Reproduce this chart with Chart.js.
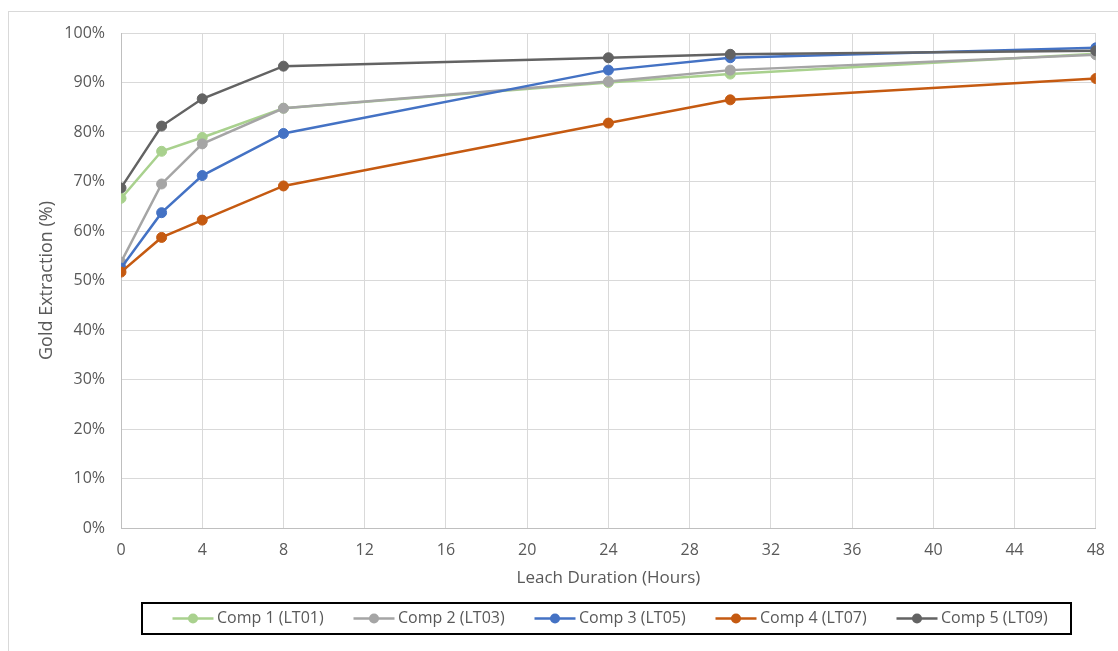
<!DOCTYPE html>
<html>
<head>
<meta charset="utf-8">
<script src="https://cdn.jsdelivr.net/npm/chart.js@4/dist/chart.umd.min.js"></script>
<style>
  html, body { margin: 0; padding: 0; background: #fff; }
  #wrap { width: 1118px; height: 651px; position: relative; }
</style>
</head>
<body>
<div id="wrap"><canvas id="chart" width="1118" height="651"></canvas></div>
<script>
/* Data */
const hours = [0, 2, 4, 8, 24, 30, 48];
const seriesNames = ['Comp 1 (LT01)', 'Comp 2 (LT03)', 'Comp 3 (LT05)', 'Comp 4 (LT07)', 'Comp 5 (LT09)'];
const comp1 = [66.6, 76.1, 78.9, 84.8, 90.0, 91.7, 95.8];
const comp2 = [53.7, 69.5, 77.6, 84.8, 90.2, 92.5, 95.6];
const comp3 = [52.5, 63.7, 71.2, 79.7, 92.5, 95.0, 97.0];
const comp4 = [51.7, 58.7, 62.2, 69.1, 81.8, 86.5, 90.8];
const comp5 = [68.7, 81.2, 86.7, 93.3, 95.0, 95.7, 96.4];
const seriesColors = ['#a9d18e', '#a5a5a5', '#4472c4', '#c55a11', '#636363'];

const FONT = '"Open Sans", "Noto Sans", sans-serif';
const TXT = '#595959';

const allSeries = [comp1, comp2, comp3, comp4, comp5];
const datasets = allSeries.map((vals, i) => ({
  label: seriesNames[i],
  data: vals.map((v, j) => ({ x: hours[j], y: v })),
  borderColor: seriesColors[i],
  backgroundColor: seriesColors[i],
  pointBackgroundColor: seriesColors[i],
  pointBorderColor: seriesColors[i],
  borderWidth: 2.5,
  pointRadius: 5,
  pointBorderWidth: 1,
  tension: 0,
  order: 4 - i
}));

/* Boxed legend + outer frame, drawn like the Excel chart */
const excelLegend = {
  id: 'excelLegend',
  afterDraw(chart) {
    const ctx = chart.ctx;
    ctx.save();
    // outer chart frame (only left/top visible)
    ctx.strokeStyle = '#d9d9d9';
    ctx.lineWidth = 1;
    ctx.strokeRect(8.5, 11.5, 1130, 660);
    // legend box
    ctx.strokeStyle = '#000';
    ctx.lineWidth = 2;
    ctx.strokeRect(142, 603, 929, 31);
    ctx.font = '16px ' + FONT;
    ctx.textBaseline = 'middle';
    const cy = 618.5;
    chart.data.datasets.forEach((ds, i) => {
      const x0 = 172.5 + i * 181;
      ctx.strokeStyle = ds.borderColor;
      ctx.lineWidth = 2.5;
      ctx.beginPath(); ctx.moveTo(x0, cy); ctx.lineTo(x0 + 41, cy); ctx.stroke();
      ctx.fillStyle = ds.borderColor;
      ctx.beginPath(); ctx.arc(x0 + 20.5, cy, 5, 0, Math.PI * 2); ctx.fill();
      ctx.fillStyle = TXT;
      ctx.textAlign = 'left';
      ctx.fillText(ds.label, x0 + 44.5, cy);
    });
    ctx.restore();
  }
};

new Chart(document.getElementById('chart'), {
  type: 'line',
  data: { datasets },
  options: {
    responsive: false,
    animation: false,
    layout: { padding: { left: 0, right: 20, top: 33, bottom: 59 } },
    plugins: { legend: { display: false }, tooltip: { enabled: false } },
    scales: {
      x: {
        type: 'linear', min: 0, max: 48,
        afterFit: s => { s.height = 64; },
        grid: { color: '#d9d9d9', drawTicks: false },
        border: { color: '#bfbfbf' },
        ticks: { stepSize: 4, padding: 13, color: TXT, font: { family: FONT, size: 16 } },
        title: { display: true, text: 'Leach Duration (Hours)', color: TXT,
                 font: { family: FONT, size: 17 }, padding: { top: 0, bottom: 4 } }
      },
      y: {
        min: 0, max: 100,
        afterFit: s => { s.width = 121; },
        grid: { color: '#d9d9d9', drawTicks: false },
        border: { color: '#bfbfbf' },
        ticks: { stepSize: 10, padding: 16, color: TXT, font: { family: FONT, size: 16 },
                 callback: v => v + '%' },
        title: { display: true, text: 'Gold Extraction (%)', color: TXT,
                 font: { family: FONT, size: 18 }, padding: { top: 36, bottom: 0 } }
      }
    }
  },
  plugins: [excelLegend]
});
</script>
</body>
</html>
